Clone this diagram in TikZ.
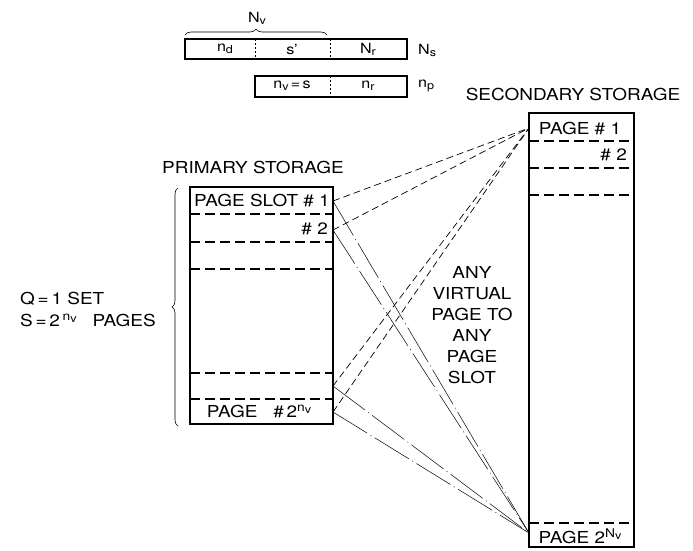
\documentclass[tikz,border=0pt]{standalone}
\usepackage{fontspec}
\setmainfont[FakeStretch=1.15]{TeX Gyre Heros}
\usetikzlibrary{decorations.pathreplacing}
\newcommand{\lsub}[1]{\raisebox{-2pt}{\fontsize{11}{11}\selectfont #1}}
\newcommand{\lsup}[1]{\raisebox{6pt}{\fontsize{12}{12}\selectfont #1}}
\begin{document}
\begin{tikzpicture}[x=1pt,y=-1pt,
  boxline/.style={line width=2pt},
  divline/.style={line width=1.1pt, dash pattern=on 10pt off 5pt},
  dotdiv/.style={line width=0.8pt, dash pattern=on 2pt off 2pt},
  lbl/.style={font=\fontsize{16.5}{16.5}\selectfont, inner sep=0pt},
  sml/.style={font=\fontsize{14}{14}\selectfont, inner sep=0pt},
  toprim/.style={line width=0.7pt, dash pattern=on 7pt off 4pt},
  tobot/.style={line width=0.5pt, dash pattern=on 40pt off 4pt on 1pt off 4pt},
  brc/.style={decorate, decoration={brace, amplitude=6pt}, line width=0.6pt}]
\useasboundingbox (0,0) rectangle (693,550);
% ---- top field boxes
\draw[boxline] (185,39) rectangle (407,59);
\draw[dotdiv] (255,39) -- (255,59);
\draw[dotdiv] (330,39) -- (330,59);
\node[sml] (nd) at (225,49) {n\lsub{d}};
\node[sml] (sp) at (292,49) {s'};
\node[sml] (Nr) at (368,49) {N\lsub{r}};
\node[sml,anchor=west] (Ns) at (418,50) {N\lsub{s}};
\draw[brc] (185,35) -- (327,35);
\node[sml] (Nv) at (257,18) {N\lsub{v}};
\draw[boxline] (255,76) rectangle (407,97);
\draw[dotdiv] (330,76) -- (330,97);
\node[sml] (nv) at (292,86) {n\lsub{v}\,=\,s};
\node[sml] (nr) at (368,86) {n\lsub{r}};
\node[sml,anchor=west] (np) at (418,86) {n\lsub{p}};
% ---- secondary storage
\node[lbl] (seclab) at (573,94) {SECONDARY STORAGE};
\draw[boxline] (529,113) rectangle (634,547);
\draw[divline] (529,141) -- (634,141);
\draw[divline] (529,168) -- (634,168);
\draw[divline] (529,195) -- (634,195);
\draw[divline] (529,523) -- (634,523);
\node[lbl] (sp1) at (580,128) {PAGE \# 1};
\node[lbl,anchor=east] (sp2) at (627,155) {\# 2};
\node[lbl] (spn) at (580,536) {PAGE 2\lsup{N\lsub{v}}};
% ---- primary storage
\node[lbl] (primlab) at (253,167) {PRIMARY STORAGE};
\draw[boxline] (190,187) rectangle (333,424);
\draw[divline] (190,214) -- (333,214);
\draw[divline] (190,242) -- (333,242);
\draw[divline] (190,269) -- (333,269);
\draw[divline] (190,373) -- (333,373);
\draw[divline] (190,399) -- (333,399);
\node[lbl] (pp1) at (262,200) {PAGE SLOT \# 1};
\node[lbl,anchor=east] (pp2) at (328,229) {\# 2};
\node[lbl] (ppn) at (259,411) {PAGE \ \ \#\,2\lsup{n\lsub{v}}};
% ---- left brace and labels
\draw[brc] (178,426) -- (178,188);
\node[lbl,anchor=west] (q) at (20,299) {Q\,=\,1 SET};
\node[lbl,anchor=west] (s) at (20,320) {S\,=\,2\,\lsup{n\lsub{v}}\ \ \ PAGES};
% ---- middle text
\node[lbl, align=center, font=\fontsize{16.5}{21}\selectfont] (any) at (472,325) {ANY\\VIRTUAL\\PAGE TO\\ANY\\PAGE\\SLOT};
% ---- connector ends
\coordinate (p1) at (333,201);
\coordinate (p2) at (333,230);
\coordinate (p3) at (333,386);
\coordinate (p4) at (333,412);
\coordinate (s1) at (529,128);
\coordinate (sn) at (529,533);
\draw[toprim] (p1) -- (s1);
\draw[toprim] (p2) -- (s1);
\draw[toprim] (p3) -- (s1);
\draw[toprim] (p4) -- (s1);
\draw[tobot] (p1) -- (sn);
\draw[tobot] (p2) -- (sn);
\draw[tobot] (p3) -- (sn);
\draw[tobot] (p4) -- (sn);
\end{tikzpicture}
\end{document}
